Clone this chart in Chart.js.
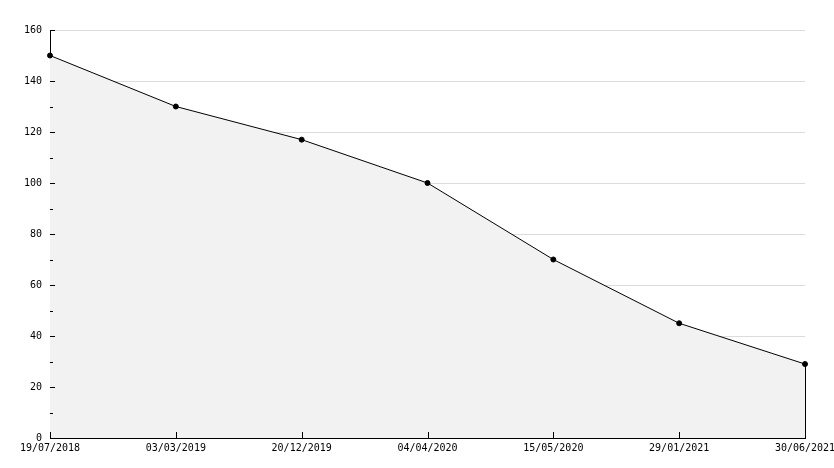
<!DOCTYPE html>
<html>
<head>
<meta charset="utf-8">
<script src="https://cdn.jsdelivr.net/npm/chart.js@4"></script>
<style>
  html, body { margin: 0; padding: 0; background: #fff; }
  #wrap { width: 834px; height: 468px; }
</style>
</head>
<body>
<div id="wrap"><canvas id="chart"></canvas></div>
<script>
// data
const dates = ['19/07/2018', '03/03/2019', '20/12/2019', '04/04/2020', '15/05/2020', '29/01/2021', '30/06/2021'];
const values = [150, 130, 117, 100, 70, 45, 29];
const yMin = 0;
const yMax = 160;

// short ticks drawn inside the plot, plus the closing edge of the fill
const innerTicks = {
    id: 'innerTicks',
    afterDatasetsDraw(chart) {
        const c = chart.ctx;
        const x = chart.scales.x;
        const y = chart.scales.y;
        const area = chart.chartArea;
        c.save();
        c.strokeStyle = '#000';
        c.lineWidth = 1;
        c.beginPath();
        y.ticks.forEach(t => {
            const py = Math.round(y.getPixelForValue(t.value)) + 0.5;
            const len = t.value % 20 === 0 ? 5 : 3;
            c.moveTo(area.left, py);
            c.lineTo(area.left + len, py);
        });
        dates.forEach((d, i) => {
            const px = Math.round(x.getPixelForValue(i)) + 0.5;
            c.moveTo(px, area.bottom);
            c.lineTo(px, area.bottom - 6);
        });
        // right edge of the filled area
        const last = values.length - 1;
        const lx = Math.round(x.getPixelForValue(last)) + 0.5;
        c.moveTo(lx, y.getPixelForValue(values[last]));
        c.lineTo(lx, area.bottom);
        c.stroke();
        c.restore();
    }
};

const tickFont = { family: 'DejaVu Sans Mono', size: 10 };

const ctx = document.getElementById('chart').getContext('2d');
new Chart(ctx, {
    type: 'line',
    data: {
        labels: dates,
        datasets: [{
            data: values,
            borderColor: '#000',
            borderWidth: 1,
            backgroundColor: '#f2f2f2',
            fill: 'origin',
            tension: 0,
            pointRadius: 2.5,
            pointBackgroundColor: '#000',
            pointBorderColor: '#000',
            pointBorderWidth: 1
        }]
    },
    options: {
        responsive: true,
        maintainAspectRatio: false,
        animation: false,
        layout: {
            padding: { top: 30, right: 29, left: 0, bottom: 0 }
        },
        plugins: {
            legend: { display: false },
            tooltip: { enabled: false }
        },
        scales: {
            x: {
                offset: false,
                grid: { display: false, drawTicks: false },
                border: { color: '#000', width: 1 },
                ticks: {
                    color: '#000',
                    font: tickFont,
                    maxRotation: 0,
                    autoSkip: false,
                    padding: 4
                },
                afterFit: s => {
                    s.height = 30;
                    s.paddingLeft = 0;
                    s.paddingRight = 0;
                }
            },
            y: {
                min: yMin,
                max: yMax,
                grid: {
                    drawTicks: false,
                    color: c => (c.tick && c.tick.value % 20 === 0 && c.tick.value !== 0) ? '#dcdcdc' : 'rgba(0,0,0,0)'
                },
                border: { color: '#000', width: 1 },
                ticks: {
                    stepSize: 10,
                    color: '#000',
                    font: tickFont,
                    padding: 8,
                    callback: v => (v % 20 === 0 ? v : '')
                },
                afterFit: s => { s.width = 50; }
            }
        }
    },
    plugins: [innerTicks]
});
</script>
</body>
</html>
